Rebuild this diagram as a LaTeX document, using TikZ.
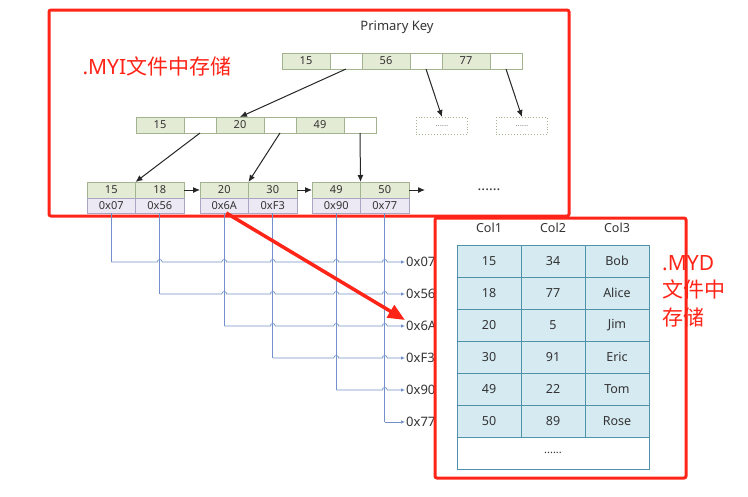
\documentclass[tikz,border=0pt]{standalone}
\usepackage{fontspec}
\setmainfont{Noto Sans}
\newfontfamily\cjk{Noto Sans CJK SC}
\usetikzlibrary{arrows.meta,positioning,calc}

\definecolor{keygreen}{HTML}{E3EBD4}
\definecolor{keyline}{HTML}{A3B38F}
\definecolor{addrpurple}{HTML}{ECE9F5}
\definecolor{addrline}{HTML}{ABA4C4}
\definecolor{wireblue}{HTML}{7390CA}
\definecolor{tablefill}{HTML}{D6EAF2}
\definecolor{tableline}{HTML}{4F93AB}
\definecolor{markred}{HTML}{FF2418}
\definecolor{inktext}{HTML}{333333}

\tikzset{
  cell/.style={draw=keyline, line width=0.8pt, minimum height=16pt, inner sep=0pt, outer sep=0pt,
    text=inktext, font=\fontsize{11}{13}\selectfont},
  key/.style={cell, fill=keygreen, minimum width=48pt},
  ptr/.style={cell, fill=white, minimum width=32pt},
  addr/.style={cell, fill=addrpurple, draw=addrline, minimum width=48.5pt, minimum height=15pt},
  dotbox/.style={draw=keyline, line width=0.9pt, dotted, minimum width=51pt, minimum height=17pt,
    inner sep=0pt, text=gray, font=\fontsize{8}{9}\selectfont},
  tcell/.style={draw=tableline, line width=0.9pt, fill=tablefill, minimum width=64pt,
    minimum height=32pt, inner sep=0pt, outer sep=0pt, text=inktext, font=\fontsize{12.5}{15}\selectfont},
  link/.style={-{Latex[length=7pt,width=6pt]}, line width=1pt, black!85},
  wire/.style={wireblue, line width=0.7pt},
  redbox/.style={markred, line width=3pt, rounded corners=2pt},
  redtext/.style={text=markred, font=\fontsize{21}{27.5}\selectfont}
}

\begin{document}
\begin{tikzpicture}[x=1pt, y=-1pt]
\useasboundingbox (0,0) rectangle (748,496);

% index file
\draw[redbox] (49,10) rectangle (569,216);
\node[text=inktext, font=\fontsize{13}{15}\selectfont] (pk) at (397,27) {Primary Key};
\node[redtext, anchor=west] (myi) at (79,66) {.MYI{\cjk 文件中存储}};

% root
\node[key, anchor=north west] (r1) at (282,53) {15};
\node[ptr, right=0pt of r1] (r2) {};
\node[key, right=0pt of r2] (r3) {56};
\node[ptr, right=0pt of r3] (r4) {};
\node[key, right=0pt of r4] (r5) {77};
\node[ptr, right=0pt of r5] (r6) {};

% inner level
\node[key, anchor=north west] (m1) at (136,117) {15};
\node[ptr, right=0pt of m1] (m2) {};
\node[key, right=0pt of m2] (m3) {20};
\node[ptr, right=0pt of m3] (m4) {};
\node[key, right=0pt of m4] (m5) {49};
\node[ptr, right=0pt of m5] (m6) {};
\node[dotbox, anchor=north west] (d1) at (416,117) {......};
\node[dotbox, anchor=north west] (d2) at (496,117) {......};

% leaves
\node[key, minimum width=48.5pt, anchor=north west] (k1) at (87,182) {15};
\node[key, minimum width=48.5pt, right=0pt of k1] (k2) {18};
\node[key, minimum width=48.5pt, anchor=north west] (k3) at (200,182) {20};
\node[key, minimum width=48.5pt, right=0pt of k3] (k4) {30};
\node[key, minimum width=48.5pt, anchor=north west] (k5) at (312,182) {49};
\node[key, minimum width=48.5pt, right=0pt of k5] (k6) {50};
\foreach \i/\v in {1/0x07, 2/0x56, 3/0x6A, 4/0xF3, 5/0x90, 6/0x77}
  \node[addr, below=0pt of k\i] (a\i) {\v};
\node[text=inktext, font=\bfseries\fontsize{14}{16}\selectfont] (more) at (489,190) {......};
\coordinate (tail) at (425,190);

\draw[link] (r2.south) -- (m3.north);
\draw[link] (r4.south) -- (d1.north);
\draw[link] (r6.south) -- (d2.north);
\draw[link] (m2.south) -- (k1.north east);
\draw[link] (m4.south) -- (k3.north east);
\draw[link] (m6.south) -- (k5.north east);
\draw[link] (k2.east) -- (k3.west);
\draw[link] (k4.east) -- (k5.west);
\draw[link] (k6.east) -- (tail);

% row pointers
\foreach \v [count=\i] in {0x07, 0x56, 0x6A, 0xF3, 0x90, 0x77}
  \node[anchor=west, inner sep=1pt, text=inktext, font=\fontsize{13}{15}\selectfont]
    (p\i) at (405,230+32*\i) {\v};
\foreach \i in {1,...,6}
  \draw[wire] (a\i.south) -- (a\i.south |- p\i.west);
\foreach \i in {1,...,5}{
  \pgfmathtruncatemacro\nxt{\i+1}
  \draw[wire, -{Latex[length=4pt,width=3.5pt]}] (a\i.south |- p\i.west)
    \foreach \j in {\nxt,...,6}{ -- ([xshift=-2.5pt]a\j.south |- p\i.west)
      arc[start angle=180, end angle=360, radius=2.5] } -- (p\i.west);
}
\draw[wire, -{Latex[length=4pt,width=3.5pt]}] (a6.south |- p6.west) -- (p6.west);

% data file
\draw[redbox] (435,218) rectangle (686,478);
\foreach \h [count=\c] in {Col1, Col2, Col3}
  \node[text=inktext, font=\fontsize{12.5}{15}\selectfont] (h\c) at (425+64*\c,228) {\h};
\foreach \a/\b/\n [count=\r] in {15/34/Bob, 18/77/Alice, 20/5/Jim, 30/91/Eric, 49/22/Tom, 50/89/Rose}{
  \node[tcell, anchor=north west] (t\r a) at (457,213+32*\r) {\a};
  \node[tcell, right=0pt of t\r a] (t\r b) {\b};
  \node[tcell, right=0pt of t\r b] (t\r c) {\n};
}
\node[tcell, fill=white, minimum width=192pt, anchor=north west, font=\fontsize{11}{13}\selectfont]
  (tend) at (457,437) {......};
\node[redtext, anchor=north west, align=left, inner sep=0pt] (myd) at (662,255)
  {.MYD\\{\cjk 文件中}\\{\cjk 存储}};

% pointer to the row
\draw[markred, line width=3.5pt, -{Triangle[length=17pt,width=14pt]}]
  ([xshift=2pt]a3.south) -- ([yshift=6pt]p3.west);
\end{tikzpicture}
\end{document}
